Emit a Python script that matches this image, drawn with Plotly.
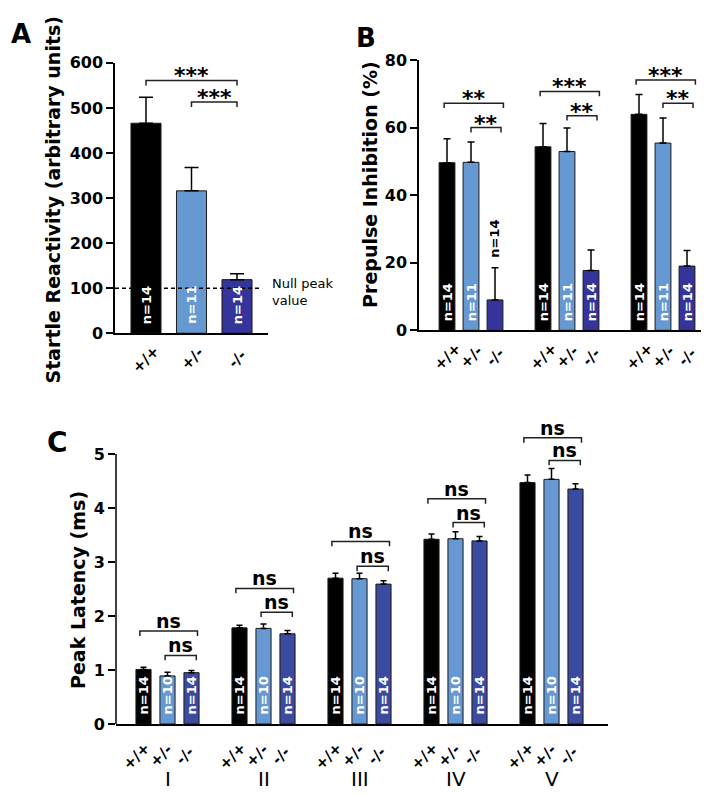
import plotly.graph_objects as go

W, H = 709, 794

# ---------------- data ----------------
genotypes = ["+/+", "+/-", "-/-"]
colors_ab = ["#000000", "#6699D2", "#35349A"]
colors_c = ["#000000", "#6699D2", "#3C4BA0"]

# Panel A: startle reactivity
a_mean = [466, 316, 119]
a_sem = [58, 52, 13]
a_n = [14, 11, 14]
a_null = 100
a_br_pairs = [(0, 2), (1, 2)]
a_br_y = [561, 513]
a_br_txt = ["***", "***"]

# Panel B: prepulse inhibition (3 prepulse conditions)
b_mean_wt = [49.6, 54.3, 63.9]
b_mean_het = [49.7, 52.9, 55.4]
b_mean_ko = [9.0, 17.7, 19.0]
b_sem_wt = [7.1, 6.9, 5.9]
b_sem_het = [6.0, 7.0, 7.4]
b_sem_ko = [9.5, 6.1, 4.6]
b_n_wt = [14, 14, 14]
b_n_het = [11, 11, 11]
b_n_ko = [14, 14, 14]
b_br_top_y = [67.2, 70.7, 74.1]
b_br_top_txt = ["**", "***", "***"]
b_br_low_y = [60.0, 63.5, 67.2]
b_br_low_txt = ["**", "**", "**"]

# Panel C: peak latency per ABR wave
c_waves = ["I", "II", "III", "IV", "V"]
c_mean_wt = [1.01, 1.78, 2.70, 3.42, 4.47]
c_mean_het = [0.89, 1.77, 2.69, 3.43, 4.53]
c_mean_ko = [0.95, 1.67, 2.59, 3.39, 4.35]
c_sem_wt = [0.04, 0.05, 0.09, 0.10, 0.14]
c_sem_het = [0.07, 0.08, 0.10, 0.13, 0.20]
c_sem_ko = [0.04, 0.06, 0.06, 0.08, 0.10]
c_n_wt = [14, 14, 14, 14, 14]
c_n_het = [10, 10, 10, 10, 10]
c_n_ko = [14, 14, 14, 14, 14]
c_br_top_y = [1.72, 2.51, 3.38, 4.17, 5.30]
c_br_low_y = [1.27, 2.07, 2.92, 3.73, 4.88]
c_br_txt = ["ns", "ns", "ns", "ns", "ns"]

# ---------------- layout helpers ----------------
def px(x):
    return x / W

def py(y):
    return 1 - y / H

BOLD = dict(family="DejaVu Sans", color="black", weight="bold")
REG = dict(family="DejaVu Sans", color="black")

fig = go.Figure()

panels = {
    "A": dict(xa="x", ya="y", xdom=[px(107), px(260)], ydom=[py(324), py(47)],
              xr=[-0.681, 2.681], yr=[0, 600], ytv=list(range(0, 601, 100)),
              ppu=277 / 600, bw=0.66, capw=7, colors=colors_ab),
    "B": dict(xa="x2", ya="y2", xdom=[px(411), px(703)], ydom=[py(321), py(44)],
              xr=[-1.167, 11.0], yr=[0, 80], ytv=list(range(0, 81, 20)),
              ppu=277 / 80, bw=0.66, capw=3.5, colors=colors_ab),
    "C": dict(xa="x3", ya="y3", xdom=[px(108), px(600)], ydom=[py(724.3), py(414.5)],
              xr=[-1.146, 19.354], yr=[0, 5.6], ytv=list(range(0, 6)),
              ppu=55.32, bw=0.63, capw=3, colors=colors_c),
}


def add_bars(p, xs_list, means, sems, ns):
    cfg = panels[p]
    for gi in range(3):
        fig.add_trace(go.Bar(
            x=xs_list[gi], y=means[gi], width=cfg["bw"],
            marker=dict(color=cfg["colors"][gi], line=dict(color="#1a1a1a", width=1)),
            error_y=dict(type="data", symmetric=False, array=sems[gi],
                         arrayminus=[0] * len(sems[gi]), color="black",
                         thickness=1.5, width=cfg["capw"]),
            xaxis=cfg["xa"], yaxis=cfg["ya"], showlegend=False, hoverinfo="skip",
        ))
        for x, m, s, n in zip(xs_list[gi], means[gi], sems[gi], ns[gi]):
            inside = m * cfg["ppu"] > 40
            fig.add_annotation(
                x=x, y=0 if inside else m + s, xref=cfg["xa"], yref=cfg["ya"],
                text=f"n={n}", textangle=-90, showarrow=False,
                xanchor="center", yanchor="bottom", yshift=7 if inside else 8,
                font=dict(BOLD, size=13, color="white" if inside else "black"),
            )


def add_bracket(p, x0, x1, y, txt, d, size, tshift):
    cfg = panels[p]
    fig.add_trace(go.Scatter(
        x=[x0, x0, x1, x1], y=[y - d, y, y, y - d], mode="lines",
        line=dict(color="#222222", width=1.5), xaxis=cfg["xa"], yaxis=cfg["ya"],
        showlegend=False, hoverinfo="skip",
    ))
    fig.add_annotation(x=(x0 + x1) / 2, y=y, xref=cfg["xa"], yref=cfg["ya"],
                       text=txt, showarrow=False, xanchor="center", yanchor="bottom",
                       yshift=tshift, font=dict(BOLD, size=size))


def add_xlabels(p, xs, labels, ypix, xshift=0):
    cfg = panels[p]
    for x, lab in zip(xs, labels):
        fig.add_annotation(x=x, y=py(ypix), xref=cfg["xa"], yref="paper",
                           text=lab, textangle=-45, showarrow=False,
                           xanchor="center", yanchor="middle", xshift=xshift,
                           font=dict(BOLD, size=15))


# ---------------- Panel A ----------------
a_x = [0, 1, 2]
add_bars("A", [[a_x[i]] for i in range(3)], [[v] for v in a_mean],
         [[v] for v in a_sem], [[v] for v in a_n])
fig.add_shape(type="line", xref="x", yref="y", x0=-0.681, x1=2.55, y0=a_null, y1=a_null,
              line=dict(color="black", width=1.5, dash="4px,3px"))
fig.add_annotation(x=px(262), y=py(282), xref="paper", yref="paper",
                   text="Null peak<br>value", showarrow=False, align="left",
                   xanchor="left", yanchor="middle", font=dict(REG, size=13))
for (i0, i1), y, t in zip(a_br_pairs, a_br_y, a_br_txt):
    add_bracket("A", a_x[i0], a_x[i1], y, t, 11, 22, -10)
add_xlabels("A", a_x, genotypes, 350)

# ---------------- Panel B ----------------
b_x = [[4 * g + i for g in range(3)] for i in range(3)]
add_bars("B", b_x, [b_mean_wt, b_mean_het, b_mean_ko],
         [b_sem_wt, b_sem_het, b_sem_ko], [b_n_wt, b_n_het, b_n_ko])
for g in range(3):
    add_bracket("B", b_x[0][g] - 0.12, b_x[2][g] + 0.35, b_br_top_y[g], b_br_top_txt[g], 1.45, 22, -10)
    add_bracket("B", b_x[1][g], b_x[2][g] + 0.25, b_br_low_y[g], b_br_low_txt[g], 1.45, 22, -10)
add_xlabels("B", [x for g in range(3) for x in (b_x[0][g], b_x[1][g], b_x[2][g])],
            genotypes * 3, 348)

# ---------------- Panel C ----------------
c_x = [[4 * g + i for g in range(5)] for i in range(3)]
add_bars("C", c_x, [c_mean_wt, c_mean_het, c_mean_ko],
         [c_sem_wt, c_sem_het, c_sem_ko], [c_n_wt, c_n_het, c_n_ko])
for g in range(5):
    add_bracket("C", c_x[0][g] - 0.15, c_x[2][g] + 0.25, c_br_top_y[g], c_br_txt[g], 0.09, 19, -3)
    add_bracket("C", c_x[1][g] - 0.1, c_x[2][g] + 0.2, c_br_low_y[g], c_br_txt[g], 0.09, 19, -3)
add_xlabels("C", [x for g in range(5) for x in (c_x[0][g], c_x[1][g], c_x[2][g])],
            genotypes * 5, 757, xshift=-7)
for g, w in enumerate(c_waves):
    fig.add_annotation(x=c_x[1][g], y=py(781), xref="x3", yref="paper", text=w,
                       showarrow=False, xanchor="center", yanchor="middle",
                       font=dict(REG, size=20))
fig.add_shape(type="line", xref="x3 domain", yref="y3", x0=0, x1=0, y0=0, y1=5,
              line=dict(color="black", width=1.5))

# ---------------- axes ----------------
for key, cfg in panels.items():
    xname = "xaxis" if cfg["xa"] == "x" else "xaxis" + cfg["xa"][1:]
    yname = "yaxis" if cfg["ya"] == "y" else "yaxis" + cfg["ya"][1:]
    fig.layout[xname] = dict(domain=cfg["xdom"], range=cfg["xr"], anchor=cfg["ya"],
                             showline=True, linecolor="black", linewidth=1.5,
                             showticklabels=False, ticks="", showgrid=False,
                             zeroline=False, fixedrange=True)
    fig.layout[yname] = dict(domain=cfg["ydom"], range=cfg["yr"], anchor=cfg["xa"],
                             showline=(key != "C"), linecolor="black", linewidth=1.5,
                             tickvals=cfg["ytv"], ticks="outside", ticklen=7,
                             tickwidth=1.5, tickcolor="black", showgrid=False,
                             zeroline=False, tickfont=dict(BOLD, size=16),
                             fixedrange=True)

# axis titles
for txt, x, y in [("Startle Reactivity (arbitrary units)", 45, 187),
                  ("Prepulse Inhibition (%)", 362, 172),
                  ("Peak Latency (ms)", 70, 587)]:
    fig.add_annotation(x=px(x), y=py(y), xref="paper", yref="paper", text=txt,
                       textangle=-90, showarrow=False, xanchor="center", yanchor="middle",
                       font=dict(BOLD, size=19))

# panel letters
for txt, x, y, s in [("A", 13, 17, 26), ("B", 358, 22, 26), ("C", 49, 436, 28)]:
    fig.add_annotation(x=px(x), y=py(y), xref="paper", yref="paper", text=txt,
                       showarrow=False, xanchor="center", yanchor="middle",
                       font=dict(BOLD, size=s))

fig.update_layout(width=W, height=H, autosize=False, barmode="overlay",
                  margin=dict(l=0, r=0, t=0, b=0),
                  paper_bgcolor="white", plot_bgcolor="white", showlegend=False)

fig.write_html("out.html")
